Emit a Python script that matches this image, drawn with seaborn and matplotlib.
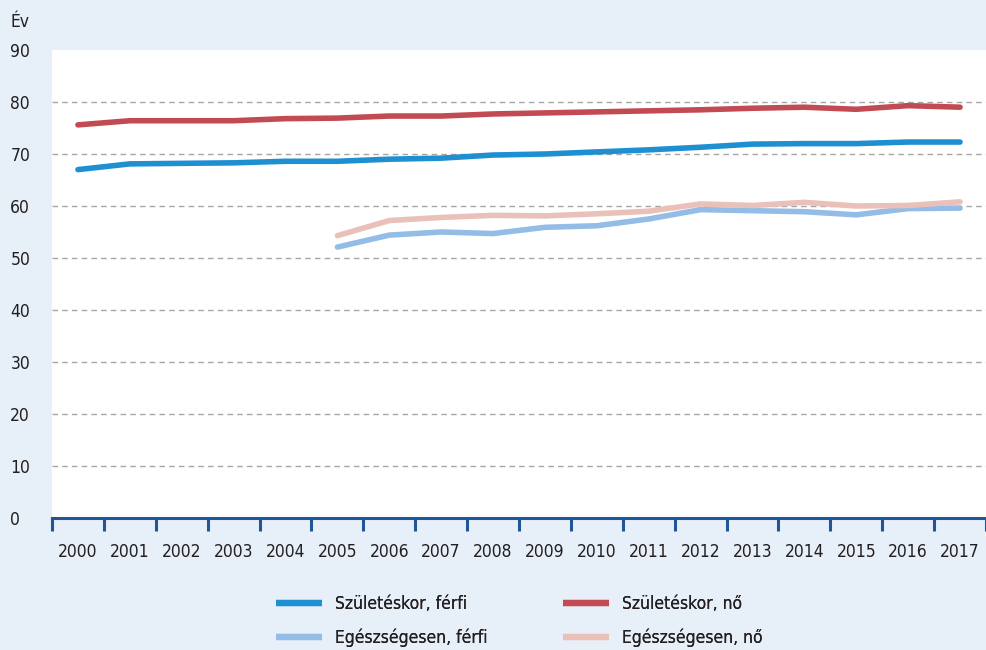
import matplotlib
matplotlib.use("Agg")
import matplotlib.pyplot as plt
from matplotlib import font_manager
import seaborn as sns
import numpy as np
import pandas as pd

years = [str(y) for y in range(2000, 2018)]
szul_ferfi = [67.0, 68.1, 68.2, 68.3, 68.6, 68.6, 69.0, 69.2, 69.8, 70.0, 70.4, 70.8, 71.3, 71.9, 72.0, 72.0, 72.3, 72.3]
szul_no = [75.6, 76.4, 76.4, 76.4, 76.8, 76.9, 77.3, 77.3, 77.7, 77.9, 78.1, 78.3, 78.5, 78.8, 79.0, 78.6, 79.3, 79.0]
eg_years = [str(y) for y in range(2005, 2018)]
eg_ferfi = [52.1, 54.4, 55.0, 54.7, 55.9, 56.2, 57.5, 59.3, 59.1, 58.9, 58.3, 59.5, 59.6]
eg_no = [54.3, 57.2, 57.8, 58.2, 58.1, 58.5, 59.0, 60.4, 60.1, 60.7, 60.0, 60.1, 60.8]

labels = ["Születéskor, férfi", "Születéskor, nő", "Egészségesen, férfi", "Egészségesen, nő"]
colors = ["#1e8fd0", "#c24a52", "#93bde6", "#e9c1b9"]
yticks = [0, 10, 20, 30, 40, 50, 60, 70, 80, 90]

bg = "#e7eff9"
txt = "#231f20"
axis_col = "#1f5796"

sns.set_theme(style="white")

# choose a narrow font if one is installed
names = {f.name for f in font_manager.fontManager.ttflist}
if "Liberation Sans Narrow" in names:
    fam = ["Liberation Sans Narrow", "DejaVu Sans"]
    fs = 13.8
else:
    cond = [f for f in font_manager.fontManager.ttflist
            if f.name == "DejaVu Sans" and str(f.stretch) in ("condensed", "semi-condensed", "600", "700")
            or "Condensed" in f.fname]
    if cond:
        fam = ["DejaVu Sans"]
        plt.rcParams["font.stretch"] = "condensed"
        fs = 12.5
    else:
        fam = ["Roboto", "DejaVu Sans"]
        fs = 12.0
plt.rcParams["font.family"] = fam

fig = plt.figure(figsize=(9.86, 6.5), dpi=100, facecolor=bg)
ax = fig.add_axes([52/986, 1-518/650, 1-52/986, (518-50)/650])
ax.set_facecolor("white")

pos = {y: i for i, y in enumerate(years)}
series = [
    (years, szul_ferfi, labels[0], colors[0]),
    (years, szul_no, labels[1], colors[1]),
    (eg_years, eg_ferfi, labels[2], colors[2]),
    (eg_years, eg_no, labels[3], colors[3]),
]
for xs, vals, lab, col in series:
    df = pd.DataFrame({"x": [pos[x] for x in xs], "y": vals})
    sns.lineplot(data=df, x="x", y="y", ax=ax, color=col, linewidth=4.0,
                 label=lab, solid_capstyle="round", solid_joinstyle="round", zorder=3)

ax.set_xlim(-0.5, 17.5)
ax.set_ylim(0, 90)
ax.set_xlabel("")
ax.set_ylabel("")

for v in yticks[1:-1]:
    ax.axhline(v, color="#a6a6a6", linestyle=(0, (4, 3)), linewidth=1.0, zorder=1)

for s in ["top", "right", "left"]:
    ax.spines[s].set_visible(False)
ax.spines["bottom"].set_color(axis_col)
ax.spines["bottom"].set_linewidth(2.2)

ax.set_xticks(np.arange(-0.5, 18.0, 1.0))
ax.set_xticklabels([])
ax.tick_params(axis="x", which="major", length=9, width=2.2, color=axis_col, direction="out", bottom=True)
ax.set_xticks(np.arange(0, 18), minor=True)
ax.set_xticklabels(years, minor=True, fontsize=fs, color=txt)
ax.tick_params(axis="x", which="minor", length=0, pad=18)

ax.set_yticks(yticks)
ax.set_yticklabels([str(v) for v in yticks], fontsize=fs, color=txt, ha="left")
ax.tick_params(axis="y", length=0, pad=30)

fig.text(10/986, 1-22/650, "Év", fontsize=fs, color=txt, ha="left", va="center")

handles, labs = ax.get_legend_handles_labels()
ax.get_legend().remove()
for col_idx, x0 in ((0, 276), (1, 563)):
    hs = [handles[col_idx], handles[col_idx + 2]]
    ls = [labs[col_idx], labs[col_idx + 2]]
    leg = fig.legend(hs, ls, loc="center left", bbox_to_anchor=(x0/986, 1-621/650), ncol=1,
                     frameon=False, fontsize=fs, handlelength=46/(fs*100/72), borderpad=0,
                     borderaxespad=0, labelspacing=0.9, handletextpad=13/(fs*100/72))
    for t in leg.get_texts():
        t.set_color(txt)
    for h in leg.get_lines():
        h.set_linewidth(4.5)
        h.set_solid_capstyle("butt")
    fig.add_artist(leg)

fig.savefig("out.png", dpi=100, facecolor=bg)
